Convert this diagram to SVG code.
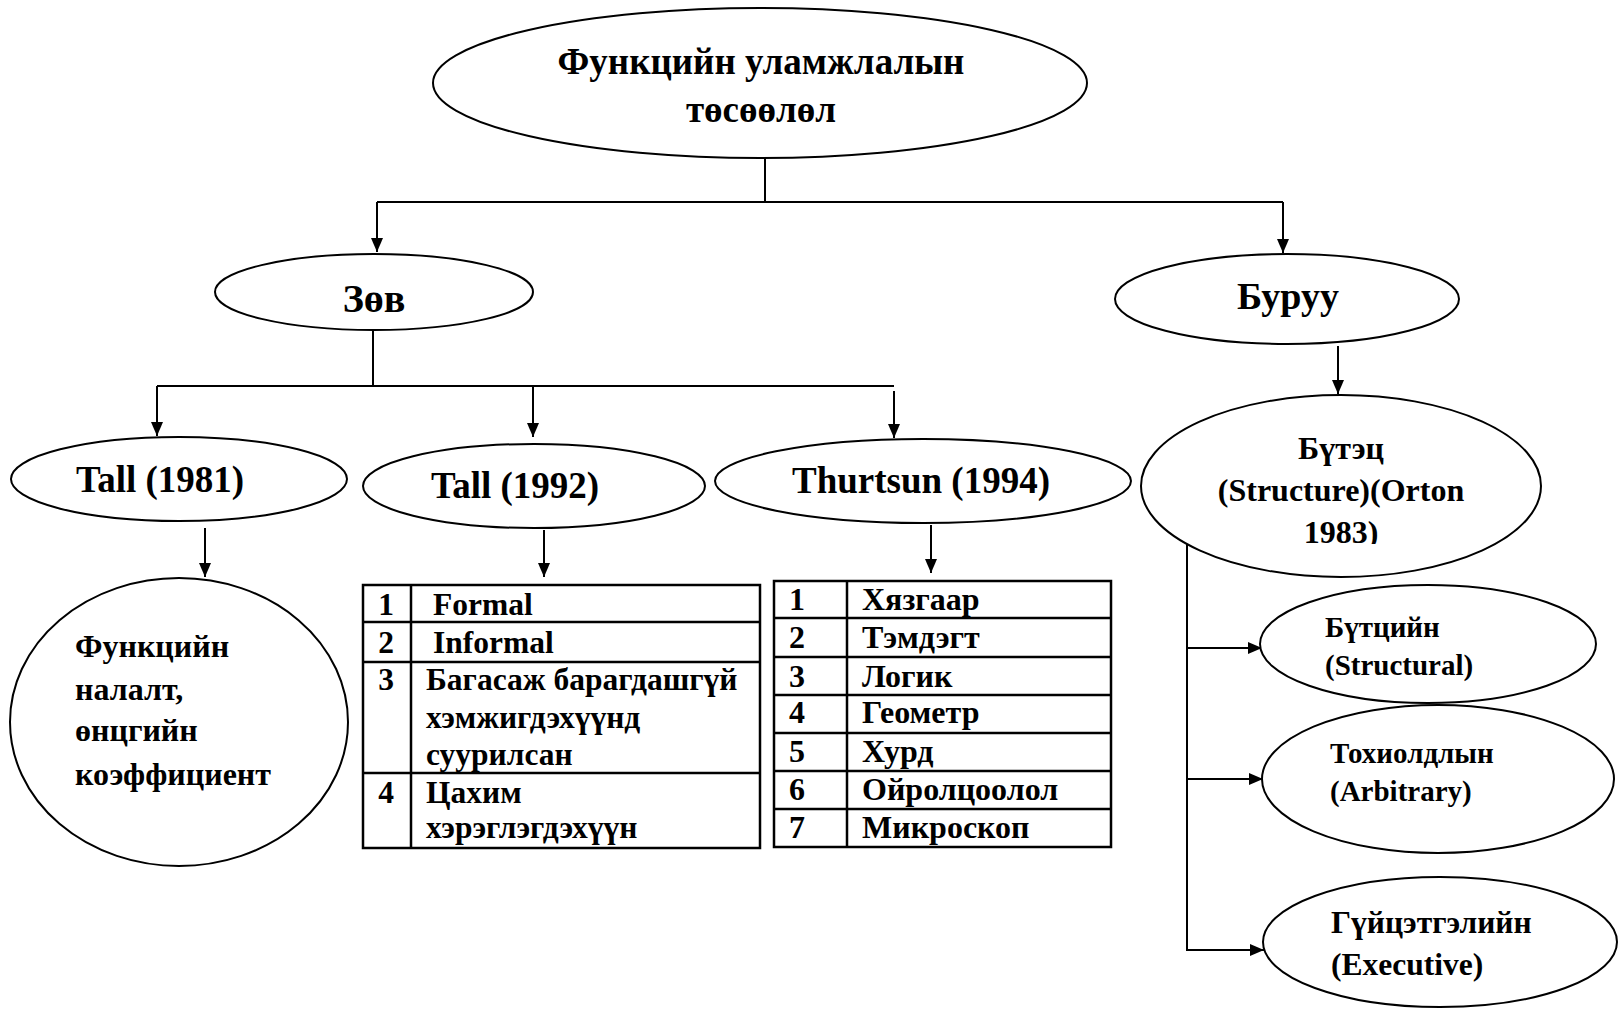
<svg xmlns="http://www.w3.org/2000/svg" width="1619" height="1009" viewBox="0 0 1619 1009">
  <style>
    .shape { fill: #ffffff; stroke: #000000; stroke-width: 2; }
    .wire { fill: none; stroke: #000000; stroke-width: 2; }
    .arrow { fill: none; stroke: #000000; stroke-width: 2; marker-end: url(#head); }
    .grid { fill: none; stroke: #000000; stroke-width: 2.5; }
    text { font-family: "Liberation Serif", "Times New Roman", serif; font-weight: bold; fill: #000000; }
    .mid { text-anchor: middle; }
  </style>
  <defs>
    <marker id="head" viewBox="0 0 14 12" refX="14" refY="6" markerWidth="14" markerHeight="12" markerUnits="userSpaceOnUse" orient="auto">
      <path d="M0,0 L14,6 L0,12 z" fill="#000000"/>
    </marker>
    <clipPath id="clip-structure">
      <rect x="1141" y="394" width="400" height="150"/>
    </clipPath>
  </defs>

  <rect width="1619" height="1009" fill="#ffffff"/>

  <!-- connectors -->
  <g id="connectors">
    <path class="wire" d="M765,158 V202 M377,202 H1283"/>
    <path class="arrow" d="M377,202 V252"/>
    <path class="arrow" d="M1283,202 V253"/>
    <path class="wire" d="M373,331 V386 M157,386 H894"/>
    <path class="arrow" d="M157,386 V436"/>
    <path class="arrow" d="M533,386 V437"/>
    <path class="arrow" d="M894,391 V438"/>
    <path class="arrow" d="M205,528 V577"/>
    <path class="arrow" d="M544,530 V577"/>
    <path class="arrow" d="M931,525 V573"/>
    <path class="arrow" d="M1338,346 V394"/>
    <path class="wire" d="M1187,542 V951"/>
    <path class="arrow" d="M1187,648 H1262"/>
    <path class="arrow" d="M1187,779 H1263"/>
    <path class="arrow" d="M1187,950 H1264"/>
  </g>

  <!-- root -->
  <g id="root">
    <ellipse class="shape" cx="760" cy="83" rx="327" ry="75"/>
    <text class="mid" x="761" y="74" font-size="37">Функцийн уламжлалын</text>
    <text class="mid" x="761" y="122" font-size="37">төсөөлөл</text>
  </g>

  <!-- correct branch -->
  <g id="zov">
    <ellipse class="shape" cx="374" cy="292" rx="159" ry="38"/>
    <text class="mid" x="374" y="312" font-size="40">Зөв</text>
  </g>

  <!-- wrong branch -->
  <g id="buruu">
    <ellipse class="shape" cx="1287" cy="299" rx="172" ry="45"/>
    <text class="mid" x="1288" y="309" font-size="38">Буруу</text>
  </g>

  <g id="tall1981">
    <ellipse class="shape" cx="179" cy="479" rx="168" ry="42"/>
    <text class="mid" x="160" y="492" font-size="37">Tall (1981)</text>
  </g>

  <g id="tall1992">
    <ellipse class="shape" cx="534" cy="486" rx="171" ry="42"/>
    <text class="mid" x="515" y="498" font-size="37">Tall (1992)</text>
  </g>

  <g id="thurtsun1994">
    <ellipse class="shape" cx="923" cy="481" rx="208" ry="42"/>
    <text class="mid" x="921" y="493" font-size="37">Thurtsun (1994)</text>
  </g>

  <!-- concept image of Tall (1981) -->
  <g id="concept-1981">
    <ellipse class="shape" cx="179" cy="722" rx="169" ry="144"/>
    <text x="75" y="657" font-size="32">Функцийн</text>
    <text x="75" y="700" font-size="32">налалт,</text>
    <text x="75" y="741" font-size="32">өнцгийн</text>
    <text x="75" y="785" font-size="32">коэффициент</text>
  </g>

  <!-- Tall (1992) list -->
  <g id="table-1992">
    <rect class="grid" x="363" y="585" width="397" height="263"/>
    <path class="grid" d="M411,585 V848 M363,622 H760 M363,662 H760 M363,773 H760"/>
    <text class="mid" x="386" y="615" font-size="31.5">1</text>
    <text x="433" y="615" font-size="31.5">Formal</text>
    <text class="mid" x="386" y="653" font-size="31.5">2</text>
    <text x="433" y="653" font-size="31.5">Informal</text>
    <text class="mid" x="386" y="690" font-size="31.5">3</text>
    <text x="426" y="690" font-size="31.5">Багасаж барагдашгүй</text>
    <text x="426" y="728" font-size="31.5">хэмжигдэхүүнд</text>
    <text x="426" y="765" font-size="31.5">суурилсан</text>
    <text class="mid" x="386" y="803" font-size="31.5">4</text>
    <text x="426" y="803" font-size="31.5">Цахим</text>
    <text x="426" y="838" font-size="31.5">хэрэглэгдэхүүн</text>
  </g>

  <!-- Thurtsun (1994) list -->
  <g id="table-1994">
    <rect class="grid" x="774" y="581" width="337" height="266"/>
    <path class="grid" d="M847,581 V847 M774,618 H1111 M774,657 H1111 M774,695 H1111 M774,733 H1111 M774,771 H1111 M774,809 H1111"/>
    <text class="mid" x="797" y="610" font-size="32">1</text>
    <text x="862" y="610" font-size="32">Хязгаар</text>
    <text class="mid" x="797" y="648" font-size="32">2</text>
    <text x="862" y="648" font-size="32">Тэмдэгт</text>
    <text class="mid" x="797" y="687" font-size="32">3</text>
    <text x="862" y="687" font-size="32">Логик</text>
    <text class="mid" x="797" y="723" font-size="32">4</text>
    <text x="862" y="723" font-size="32">Геометр</text>
    <text class="mid" x="797" y="762" font-size="32">5</text>
    <text x="862" y="762" font-size="32">Хурд</text>
    <text class="mid" x="797" y="800" font-size="32">6</text>
    <text x="862" y="800" font-size="32">Ойролцоолол</text>
    <text class="mid" x="797" y="838" font-size="32">7</text>
    <text x="862" y="838" font-size="32">Микроскоп</text>
  </g>

  <!-- structure (Orton 1983) -->
  <g id="structure">
    <ellipse class="shape" cx="1341" cy="486" rx="200" ry="91"/>
    <g clip-path="url(#clip-structure)">
      <text class="mid" x="1341" y="459" font-size="32">Бүтэц</text>
      <text class="mid" x="1341" y="501" font-size="32">(Structure)(Orton</text>
      <text class="mid" x="1341" y="543" font-size="32">1983)</text>
    </g>
  </g>

  <g id="structural">
    <ellipse class="shape" cx="1428" cy="644" rx="168" ry="59"/>
    <text x="1325" y="637" font-size="29">Бүтцийн</text>
    <text x="1325" y="675" font-size="29">(Structural)</text>
  </g>

  <g id="arbitrary">
    <ellipse class="shape" cx="1438" cy="779" rx="176" ry="74"/>
    <text x="1330" y="763" font-size="29">Тохиолдлын</text>
    <text x="1330" y="801" font-size="29">(Arbitrary)</text>
  </g>

  <g id="executive">
    <ellipse class="shape" cx="1440" cy="942" rx="177" ry="65"/>
    <text x="1331" y="933" font-size="31.5">Гүйцэтгэлийн</text>
    <text x="1331" y="975" font-size="31.5">(Executive)</text>
  </g>
</svg>
